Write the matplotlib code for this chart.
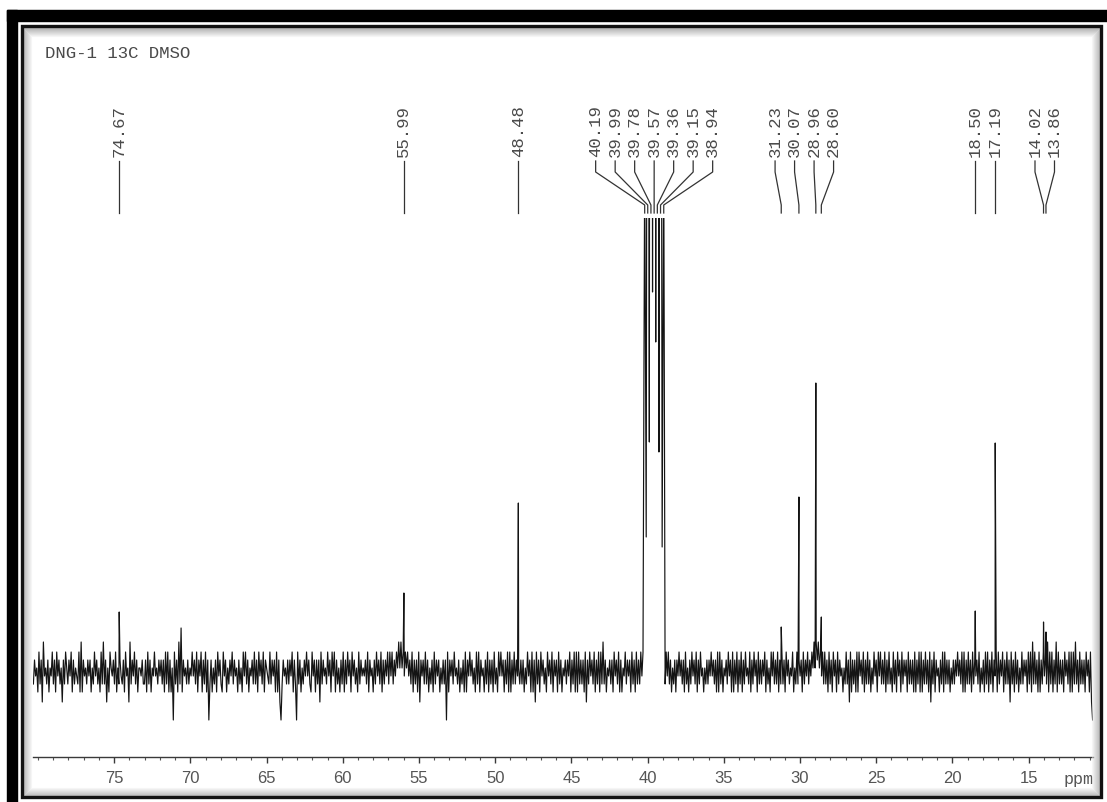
"""13C NMR spectrum of DNG-1 in DMSO, redrawn as out.png."""

import matplotlib
matplotlib.use("Agg")
import matplotlib.pyplot as plt
import matplotlib.patches as mpatches
import matplotlib.ticker as mticker
import numpy as np

plt.rcParams["font.family"] = ["Liberation Sans", "DejaVu Sans"]

W, H = 1107, 802
INK = "#141414"
TEXT = "#4a4a4a"
MONO = ["Liberation Mono", "DejaVu Sans Mono"]

# --- data (heights in baseline-relative units) ---
TITLE = "DNG-1 13C DMSO"
PEAK_PPM = [74.67, 55.99, 48.48, 31.23, 30.07, 28.96, 28.60, 18.50, 17.19, 14.02, 13.86]
PEAK_HEIGHT = [60, 79, 169, 45, 175, 289, 55, 61, 229, 50, 40]
DMSO_PPM = [40.19, 39.99, 39.78, 39.57, 39.36, 39.15, 38.94]
DMSO_HEIGHT = [520, 1300, 2500, 2900, 2500, 1300, 520]
DMSO_VALLEY = [135, 230, 380, 330, 220, 125]
X_TICKS = [75, 70, 65, 60, 55, 50, 45, 40, 35, 30, 25, 20, 15]

# baseline noise, one digit per sample, digit -> NOISE_LEVELS
NOISE_LEVELS = [-48, -30, -20, -12, -4, 4, 12, 20, 30, 44]
NOISE_A_RANGE = (80.3, 40.3)
NOISE_A = (
    "3645273618" "4536254736" "2746351637" "5364726354" "3728264536"
    "4625374635" "2738361527" "5463725364" "3627451836" "4736255463"
    "3627362547" "4536463627" "3726250736" "2839264536" "3547463726"
    "4726372603" "6253627463" "2746253647" "3645263527" "4736254637"
    "3627463726" "5437364627" "2610364536" "3647263073" "6253647463"
    "2746263617" "3645374627" "4726352637" "2637462746" "3527364546"
    "3726452637" "4637263647" "3747364758" "5857475746" "3726362716"
    "4637362536" "2736462536" "3607264637" "4536253627" "2647463527"
    "3726452637" "2636273527" "4746263727" "2637364536" "3625374627"
    "2617362746" "3527463726" "4627362546" "3647263727" "2736362716"
    "3746372637" "2738362546" "3627463726" "2547364627" "3627363747"
)
NOISE_B_RANGE = (38.85, 10.8)
NOISE_B = (
    "3747362536" "2647463627" "3526374637" "2637452536" "3647463627"
    "2736254637" "4627263726" "3726374537" "2637462736" "3647263527"
    "4736372637" "3627463547" "2537364627" "3647364758" "5868574737"
    "3627362746" "2736452537" "3617263627" "2746372637" "3625374627"
    "4736372637" "3527362746" "2736462736" "3627263727" "2637362716"
    "3726452637" "2736362536" "3647463727" "2637362736" "4637253627"
    "3726372647" "2736472637" "3617362736" "2537364627" "3728373627"
    "2637463827" "3726382736" "3627463727" "2738362736" "3627462710"
)

PX_PER_PPM = 15.24
LABEL_GAP = 19.5 / PX_PER_PPM  # min spacing of peak labels, in ppm


def fig_xy(x, y):
    """Pixel position (from top-left) to figure fraction."""
    return x / W, 1 - y / H


def spread_labels(ppms, gap):
    """Push overlapping labels apart, keeping each cluster centred."""
    groups = [[p] for p in sorted(ppms, reverse=True)]
    merged = True
    while merged:
        merged = False
        for i in range(len(groups) - 1):
            a, b = groups[i], groups[i + 1]
            a_end = np.mean(a) - (len(a) - 1) * gap / 2
            b_start = np.mean(b) + (len(b) - 1) * gap / 2
            if a_end - b_start < gap:
                groups[i] = a + b
                del groups[i + 1]
                merged = True
                break
    out = []
    for g in groups:
        c = np.mean(g)
        out += [c - (k - (len(g) - 1) / 2) * gap for k in range(len(g))]
    return out


def noise_trace(digits, ppm_range):
    ppm = np.linspace(ppm_range[0], ppm_range[1], len(digits))
    vals = np.array([NOISE_LEVELS[int(d)] for d in digits], dtype=float)
    return ppm, vals


fig = plt.figure(figsize=(W / 100, H / 100), dpi=100)
fig.patch.set_facecolor("white")

# spectrum axes: x from 80.3 to 10.8 ppm, top clipped just below the labels
left_px, right_px, top_px, axis_px = 33.4, 1092.6, 218, 757
ax = fig.add_axes([left_px / W, 1 - axis_px / H,
                   (right_px - left_px) / W, (axis_px - top_px) / H])
ax.set_facecolor("none")

ppm_a, val_a = noise_trace(NOISE_A, NOISE_A_RANGE)
ppm_b, val_b = noise_trace(NOISE_B, NOISE_B_RANGE)
valley_ppm = [(DMSO_PPM[i] + DMSO_PPM[i + 1]) / 2 for i in range(len(DMSO_PPM) - 1)]

all_ppm = np.concatenate([ppm_a, ppm_b, PEAK_PPM, DMSO_PPM, valley_ppm])
all_val = np.concatenate([val_a, val_b, PEAK_HEIGHT, DMSO_HEIGHT, DMSO_VALLEY])
order = np.argsort(-all_ppm)
ax.plot(all_ppm[order], all_val[order], color=INK, linewidth=0.85)

ax.set_xlim(80.3, 10.8)
ax.set_ylim(-85, 454)
for side in ("top", "left", "right"):
    ax.spines[side].set_visible(False)
ax.spines["bottom"].set_color("#3a3a3a")
ax.spines["bottom"].set_linewidth(1.0)
ax.set_yticks([])
ax.set_xticks(X_TICKS)
ax.xaxis.set_minor_locator(mticker.MultipleLocator(1))
ax.tick_params(axis="x", which="major", direction="out", length=4.5, width=1,
               color="#3a3a3a", labelsize=12, labelcolor="#555555", pad=5.5)
ax.tick_params(axis="x", which="minor", direction="out", length=2.2, width=0.8,
               color="#555555")
ax.annotate("ppm", xy=(11.7, 0), xycoords=ax.get_xaxis_transform(),
            xytext=(0, -16.5), textcoords="offset points", ha="center", va="center",
            fontsize=12, color="#555555", family=MONO)

# peak labels with connector lines (y in baseline-relative units, above clip)
label_ppm = sorted(PEAK_PPM + DMSO_PPM, reverse=True)
label_pos = spread_labels(label_ppm, LABEL_GAP)
for peak, pos in zip(label_ppm, label_pos):
    ax.text(pos, 515, f"{peak:.2f}", rotation=90, ha="center", va="bottom",
            fontsize=12.5, color=TEXT, family=MONO, clip_on=False)
    ax.plot([pos, pos, peak, peak], [511, 500, 467, 459], color="#333333",
            linewidth=0.9, clip_on=False)

fig.text(*fig_xy(45, 54), TITLE, ha="left", va="center", fontsize=12.5,
         color=TEXT, family=MONO)

# scanned-page frame: heavy black band top/left, thin inner box with soft shadow
fig.patches.append(mpatches.Rectangle(fig_xy(7, 802), 10 / W, 792 / H,
                                      transform=fig.transFigure, color="black", zorder=5))
fig.patches.append(mpatches.Rectangle(fig_xy(7, 21), 1100 / W, 11 / H,
                                      transform=fig.transFigure, color="black", zorder=5))
for k in range(9):
    shade = 0.45 + k * 0.06
    fig.patches.append(mpatches.Rectangle(
        fig_xy(23 + k, 796 - k), (1077 - 2 * k) / W, (768 - 2 * k) / H,
        transform=fig.transFigure, fill=False, edgecolor=(shade, shade, shade),
        linewidth=0.8, alpha=0.5, zorder=4))
fig.patches.append(mpatches.Rectangle(fig_xy(21.5, 796.5), 1079 / W, 770.5 / H,
                                      transform=fig.transFigure, fill=False,
                                      edgecolor="#111111", linewidth=2.4, zorder=5))

fig.savefig("out.png", dpi=100, facecolor="white")
